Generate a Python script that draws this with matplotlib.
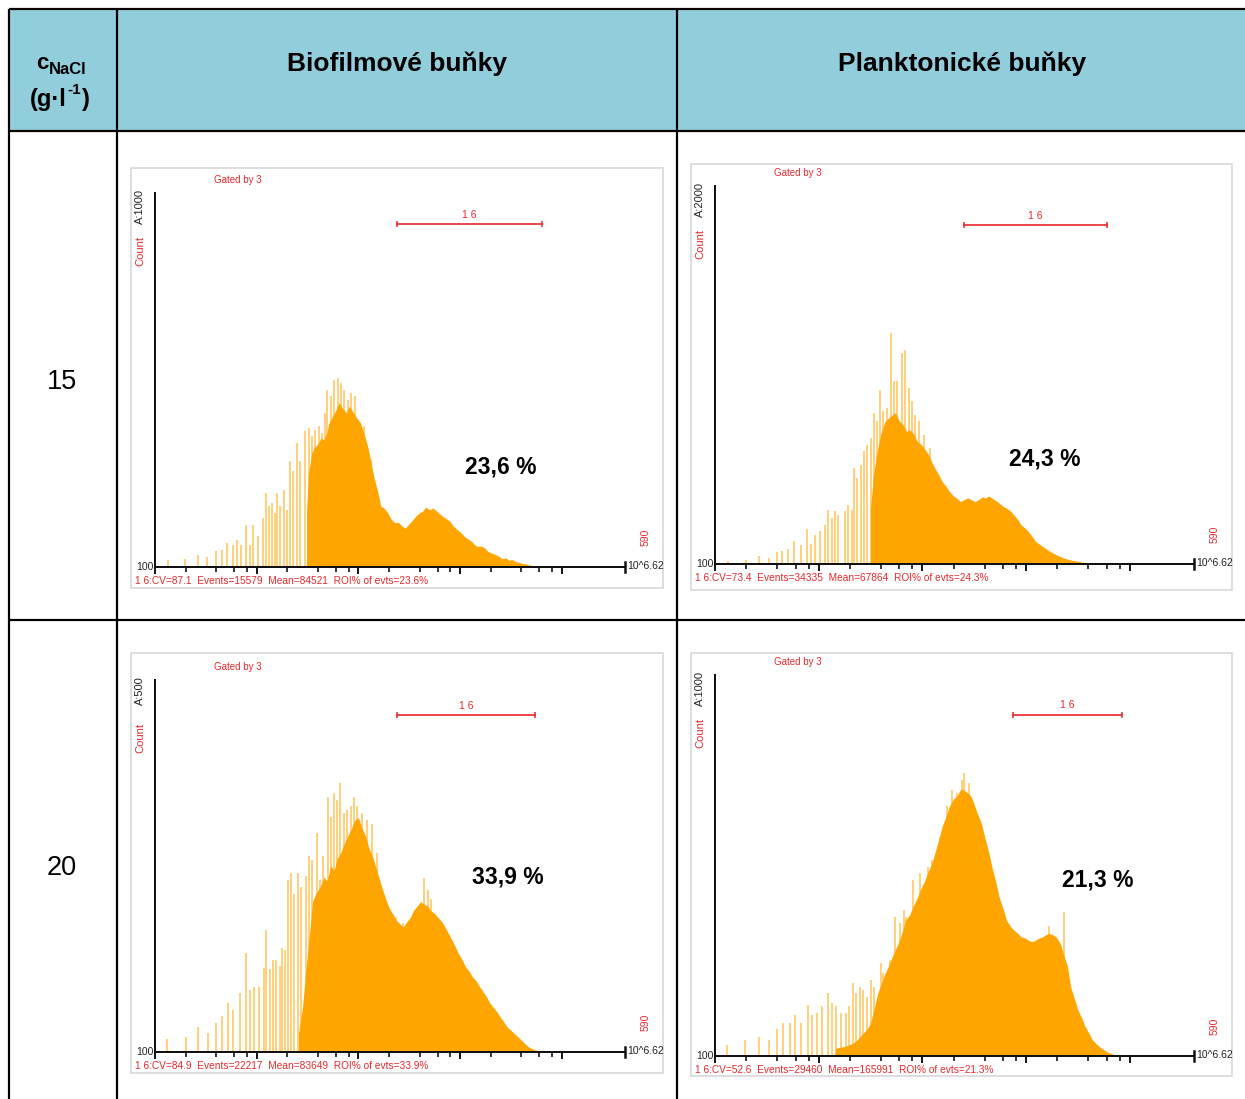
import numpy as np
import matplotlib
matplotlib.use("Agg")
import matplotlib.pyplot as plt
from matplotlib.patches import Rectangle

plt.rcParams['font.family'] = ['Liberation Sans', 'DejaVu Sans']

W, H = 1245, 1099

col_names = ["Biofilmové buňky", "Planktonické buňky"]
row_labels = ["15", "20"]

# x values are log10(fluorescence), y values are counts
# 15 g/l, biofilm
bio15_fill_x = [3.49, 3.51, 3.54, 3.57, 3.61, 3.63, 3.66, 3.69, 3.71, 3.74, 3.78, 3.81, 3.84, 3.88,
                3.91, 3.95, 3.98, 4.02, 4.05, 4.09, 4.12, 4.15, 4.19, 4.22, 4.25, 4.29, 4.32, 4.36,
                4.39, 4.43, 4.46, 4.49, 4.53, 4.56, 4.60, 4.63, 4.66, 4.70, 4.73, 4.77, 4.80, 4.83,
                4.87, 4.90, 4.93, 4.97, 5.00, 5.04, 5.07, 5.11, 5.14, 5.17, 5.21, 5.24, 5.27, 5.31,
                5.34, 5.38, 5.41, 5.45, 5.48, 5.51, 5.55, 5.58, 5.62, 5.65, 5.68, 5.72, 5.79, 5.85]
bio15_fill_y = [153, 250, 305, 320, 332, 345, 340, 360, 385, 400, 421, 440, 425, 412,
                430, 412, 400, 385, 360, 323, 285, 242, 200, 162, 158, 144, 128, 118,
                120, 109, 104, 113, 125, 135, 145, 149, 160, 153, 158, 149, 142, 135,
                128, 122, 110, 100, 94, 82, 76, 69, 60, 55, 56, 51, 42, 37,
                34, 29, 22, 24, 18, 20, 14, 12, 9, 8, 5, 4, 3, 1]
bio15_spike_x = [2.13, 2.29, 2.42, 2.51, 2.60, 2.66, 2.71, 2.77, 2.81, 2.85, 2.89, 2.93, 2.96, 3.01,
                 3.06, 3.09, 3.12, 3.15, 3.18, 3.20, 3.23, 3.27, 3.30, 3.33, 3.36, 3.40, 3.43, 3.47,
                 3.51, 3.54, 3.57, 3.61, 3.64, 3.67, 3.69, 3.73, 3.76, 3.80, 3.83, 3.86, 3.90, 3.93,
                 3.97, 4.00, 4.05, 4.12]
bio15_spike_y = [18, 22, 33, 27, 42, 46, 64, 60, 73, 60, 111, 60, 111, 82,
                 131, 198, 162, 171, 144, 198, 162, 207, 153, 283, 256, 332, 283, 363,
                 372, 349, 367, 376, 358, 412, 474, 456, 501, 505, 492, 474, 447, 465,
                 456, 394, 376, 287]

# 15 g/l, planktonic
pl15_fill_x = [3.50, 3.53, 3.57, 3.60, 3.64, 3.67, 3.71, 3.74, 3.78, 3.81, 3.85, 3.88, 3.92, 3.95,
               3.99, 4.02, 4.06, 4.09, 4.12, 4.16, 4.19, 4.23, 4.26, 4.30, 4.33, 4.37, 4.40, 4.44,
               4.47, 4.51, 4.54, 4.58, 4.61, 4.64, 4.67, 4.71, 4.74, 4.78, 4.81, 4.85, 4.88, 4.92,
               4.95, 4.99, 5.02, 5.06, 5.09, 5.13, 5.16, 5.20, 5.23, 5.26, 5.29, 5.33, 5.36, 5.40,
               5.43, 5.47, 5.50, 5.57, 5.64]
pl15_fill_y = [296, 480, 613, 690, 754, 770, 789, 800, 754, 740, 701, 710, 684, 650,
               631, 610, 578, 540, 507, 470, 437, 410, 384, 360, 349, 330, 340, 350,
               340, 330, 340, 355, 349, 360, 349, 335, 322, 305, 296, 280, 261, 235,
               208, 190, 173, 145, 120, 105, 93, 78, 67, 58, 49, 40, 32, 26,
               21, 17, 14, 7, 4]
pl15_spike_x = [2.13, 2.30, 2.42, 2.52, 2.60, 2.65, 2.70, 2.76, 2.83, 2.89, 2.93, 2.96, 3.01, 3.06,
                3.09, 3.13, 3.16, 3.19, 3.25, 3.28, 3.32, 3.34, 3.37, 3.41, 3.44, 3.47, 3.50, 3.53,
                3.56, 3.59, 3.62, 3.66, 3.70, 3.73, 3.76, 3.80, 3.83, 3.87, 3.90, 3.93, 3.97, 4.02,
                4.07]
pl15_spike_y = [18, 23, 44, 32, 62, 67, 79, 120, 102, 187, 106, 155, 173, 208,
                287, 243, 278, 261, 278, 314, 287, 507, 455, 525, 596, 631, 666, 798,
                754, 921, 807, 824, 1221, 966, 966, 1115, 1133, 930, 860, 789, 754, 684,
                613]

# 20 g/l, biofilm
bio20_fill_x = [3.41, 3.45, 3.48, 3.52, 3.55, 3.59, 3.62, 3.66, 3.69, 3.73, 3.76, 3.79, 3.82, 3.86,
                3.89, 3.93, 3.96, 4.00, 4.03, 4.07, 4.10, 4.14, 4.17, 4.20, 4.23, 4.27, 4.30, 4.34,
                4.37, 4.41, 4.44, 4.48, 4.51, 4.54, 4.57, 4.61, 4.64, 4.68, 4.71, 4.75, 4.78, 4.82,
                4.85, 4.89, 4.92, 4.95, 4.98, 5.02, 5.05, 5.09, 5.12, 5.16, 5.19, 5.23, 5.26, 5.29,
                5.32, 5.36, 5.39, 5.43, 5.46, 5.50, 5.53, 5.57, 5.60, 5.67, 5.73, 5.80]
bio20_fill_y = [25, 60, 106, 160, 203, 215, 221, 235, 230, 250, 244, 260, 266, 280,
                289, 300, 311, 315, 302, 290, 275, 262, 248, 235, 221, 205, 194, 185,
                177, 172, 168, 176, 181, 190, 195, 202, 199, 196, 190, 186, 181, 175,
                168, 158, 150, 142, 133, 124, 115, 108, 101, 95, 88, 80, 74, 66,
                61, 54, 48, 40, 34, 29, 25, 20, 16, 7, 3, 1]
bio20_spike_x = [2.12, 2.30, 2.42, 2.52, 2.60, 2.66, 2.72, 2.77, 2.84, 2.89, 2.93, 2.97, 3.02, 3.07,
                 3.09, 3.13, 3.16, 3.19, 3.23, 3.25, 3.28, 3.31, 3.34, 3.37, 3.41, 3.44, 3.48, 3.51,
                 3.54, 3.59, 3.62, 3.65, 3.70, 3.73, 3.76, 3.79, 3.82, 3.86, 3.89, 3.93, 3.96, 3.99,
                 4.03, 4.08, 4.13, 4.18, 4.23, 4.37, 4.44, 4.64, 4.68, 4.71]
bio20_spike_y = [17, 20, 34, 26, 39, 48, 66, 57, 79, 133, 84, 88, 88, 113,
                 164, 111, 124, 124, 115, 140, 137, 231, 240, 213, 240, 222, 236, 263,
                 258, 294, 231, 263, 343, 316, 348, 339, 361, 321, 325, 330, 343, 330,
                 321, 312, 307, 267, 218, 182, 173, 234, 218, 205]

# 20 g/l, planktonic
pl20_fill_x = [3.16, 3.25, 3.33, 3.38, 3.43, 3.47, 3.50, 3.54, 3.57, 3.61, 3.64, 3.68, 3.71, 3.75,
               3.78, 3.81, 3.84, 3.88, 3.91, 3.95, 3.98, 4.02, 4.05, 4.09, 4.12, 4.16, 4.19, 4.23,
               4.26, 4.30, 4.33, 4.37, 4.40, 4.44, 4.47, 4.50, 4.53, 4.57, 4.60, 4.64, 4.67, 4.71,
               4.74, 4.78, 4.81, 4.85, 4.88, 4.92, 4.95, 4.99, 5.02, 5.06, 5.09, 5.13, 5.16, 5.19,
               5.22, 5.26, 5.29, 5.33, 5.36, 5.40, 5.43, 5.47, 5.50, 5.54, 5.57, 5.61, 5.64, 5.71,
               5.78, 5.84]
pl20_fill_y = [20, 25, 33, 45, 60, 72, 86, 130, 165, 195, 217, 240, 261, 285,
               304, 330, 357, 372, 392, 415, 436, 458, 480, 505, 532, 570, 602, 630,
               655, 675, 681, 700, 698, 690, 681, 660, 637, 610, 576, 535, 497, 455,
               418, 385, 357, 340, 331, 322, 313, 310, 304, 300, 304, 310, 313, 318,
               322, 318, 313, 295, 269, 234, 182, 147, 121, 98, 77, 58, 42, 24,
               11, 5]
pl20_spike_x = [2.12, 2.29, 2.42, 2.52, 2.60, 2.66, 2.72, 2.77, 2.83, 2.90, 2.94, 2.98, 3.03, 3.09,
                3.13, 3.17, 3.22, 3.26, 3.29, 3.33, 3.36, 3.40, 3.43, 3.47, 3.50, 3.53, 3.60, 3.62,
                3.66, 3.69, 3.74, 3.78, 3.82, 3.84, 3.91, 3.98, 4.05, 4.09, 4.17, 4.24, 4.29, 4.33,
                4.38, 4.40, 4.45, 5.22, 5.37]
pl20_spike_y = [29, 42, 51, 42, 70, 86, 86, 108, 86, 134, 108, 112, 130, 166,
                138, 130, 112, 112, 130, 191, 165, 182, 173, 156, 200, 182, 243, 217,
                208, 252, 366, 348, 383, 366, 462, 480, 497, 515, 576, 655, 698, 690,
                725, 742, 716, 340, 379]

full_scale = [1000, 2000, 500, 1000]
roi_bars = [(4.38, 5.80, 917), (4.40, 5.78, 1794), (4.38, 5.74, 453), (4.87, 5.93, 896)]
footers = ["1 6:CV=87.1  Events=15579  Mean=84521  ROI% of evts=23.6%",
           "1 6:CV=73.4  Events=34335  Mean=67864  ROI% of evts=24.3%",
           "1 6:CV=84.9  Events=22217  Mean=83649  ROI% of evts=33.9%",
           "1 6:CV=52.6  Events=29460  Mean=165991  ROI% of evts=21.3%"]
roi_pct = ["23,6 %", "24,3 %", "33,9 %", "21,3 %"]

# layout in pixels: (axis x0, axis x1, baseline y, top y)
geoms = [(155, 625, 567, 193), (715, 1194, 564, 186), (155, 625, 1052, 680), (715, 1194, 1056, 675)]
frames = [(131, 168, 663, 588), (691, 164, 1232, 590), (131, 653, 663, 1073), (691, 653, 1232, 1076)]
pct_pos = [(501, 467), (1045, 459), (508, 877), (1098, 880)]

orange = '#FFA500'
red = '#E8282B'
px = 0.72  # points per pixel

fig = plt.figure(figsize=(W / 100, H / 100), dpi=100)
bg = fig.add_axes([0, 0, 1, 1])
bg.set_xlim(0, W)
bg.set_ylim(H, 0)
bg.axis('off')

# table
bg.add_patch(Rectangle((9, 9), W - 9, 122, color='#92CDDC', lw=0))
for x in [9, 117, 677]:
    bg.plot([x, x], [9, H], color='black', lw=2.2 * px, solid_capstyle='butt')
for y in [9, 131, 620]:
    bg.plot([9, W], [y, y], color='black', lw=2.2 * px, solid_capstyle='butt')

# header of first column: c_NaCl (g·l^-1)
tc = bg.text(36, 69, "c", fontsize=16, fontweight='bold', ha='left', va='baseline')
bg.annotate("NaCl", xy=(1, 0), xycoords=tc, xytext=(0.5, -2.5), textcoords='offset points',
            fontsize=12, fontweight='bold', ha='left', va='bottom')
tg = bg.text(30, 106, "(g·l", fontsize=17, fontweight='bold', ha='left', va='baseline')
ts = bg.annotate("-1", xy=(1, 0.62), xycoords=tg, xytext=(0.5, 0), textcoords='offset points',
                 fontsize=11, fontweight='bold', ha='left', va='bottom')
bg.annotate(")", xy=(1, 0), xycoords=(ts, tg), xytext=(0.3, 0), textcoords='offset points',
            fontsize=17, fontweight='bold', ha='left', va='bottom')

bg.text(397, 64, col_names[0], fontsize=19, fontweight='bold', ha='center', va='center')
bg.text(962, 64, col_names[1], fontsize=19, fontweight='bold', ha='center', va='center')
bg.text(62, 382, row_labels[0], fontsize=19.5, ha='center', va='center')
bg.text(62, 868, row_labels[1], fontsize=19.5, ha='center', va='center')

panels = [
    (bio15_fill_x, bio15_fill_y, bio15_spike_x, bio15_spike_y),
    (pl15_fill_x, pl15_fill_y, pl15_spike_x, pl15_spike_y),
    (bio20_fill_x, bio20_fill_y, bio20_spike_x, bio20_spike_y),
    (pl20_fill_x, pl20_fill_y, pl20_spike_x, pl20_spike_y),
]

major = [2, 3, 4, 5, 6]
minor = [np.log10(m) + d for d in [2, 3, 4, 5] for m in [2, 4, 6, 8]]

for i, (fx, fy, sx, sy) in enumerate(panels):
    x0, x1, yb, yt = geoms[i]
    f0, g0, f1, g1 = frames[i]
    bg.add_patch(Rectangle((f0, g0), f1 - f0, g1 - g0, fill=False, ec='#d6d6d6', lw=1.6 * px))

    ax = fig.add_axes([x0 / W, 1 - yb / H, (x1 - x0) / W, (yb - yt) / H])
    ax.patch.set_alpha(0)
    ax.set_xlim(2, 6.62)
    ax.set_ylim(0, full_scale[i])
    ax.vlines(sx, 0, sy, color=orange, alpha=0.6, lw=1.2)
    ax.fill_between(fx, fy, 0, color=orange, lw=0)
    for s in ['top', 'right']:
        ax.spines[s].set_visible(False)
    for s in ['left', 'bottom']:
        ax.spines[s].set_linewidth(2 * px)
        ax.spines[s].set_color('#111111')
    ax.set_yticks([])
    ax.set_xticks(major)
    ax.set_xticks(minor, minor=True)
    ax.tick_params(axis='x', which='major', direction='out', length=5, width=1.3, labelbottom=False)
    ax.tick_params(axis='x', which='minor', direction='out', length=3.5, width=1.1)

    r0, r1, ry = roi_bars[i]
    ax.plot([r0, r1], [ry, ry], color=red, lw=1.2)
    ax.plot([r0, r1], [ry, ry], ls='none', marker='|', ms=5, mew=1.1, color=red)
    ax.annotate("1 6", xy=((r0 + r1) / 2, ry), xytext=(0, 3), textcoords='offset points',
                ha='center', va='bottom', color=red, fontsize=7.5)

    # end cap of x axis
    bg.plot([x1, x1], [yb - 5, yb + 5], color='#111111', lw=1.8)

    bg.text(x0 + 59, yt - 13, "Gated by 3", color=red, fontsize=7, ha='left', va='center')
    bg.text(x0 - 15, yt - 4, "A:%d" % full_scale[i], color='#222222', fontsize=8, rotation=90,
            ha='center', va='top')
    bg.text(x0 - 15, yt + 43, "Count", color=red, fontsize=8, rotation=90, ha='center', va='top')
    bg.text(x0 - 1, yb, "100", color='#222222', fontsize=7.5, ha='right', va='center')
    bg.text(x1 + 2, yb - 1, "10^6.62", color='#222222', fontsize=7.5, ha='left', va='center')
    bg.text(x1 + 21, yb - 30, "590", color=red, fontsize=7.5, rotation=90, ha='center', va='center')
    bg.text(x0 - 20, yb + 14, footers[i], color=red, fontsize=7.3, ha='left', va='center')
    bg.text(pct_pos[i][0], pct_pos[i][1], roi_pct[i], fontsize=16.5, fontweight='bold',
            ha='center', va='center')

fig.savefig("out.png", dpi=100)
